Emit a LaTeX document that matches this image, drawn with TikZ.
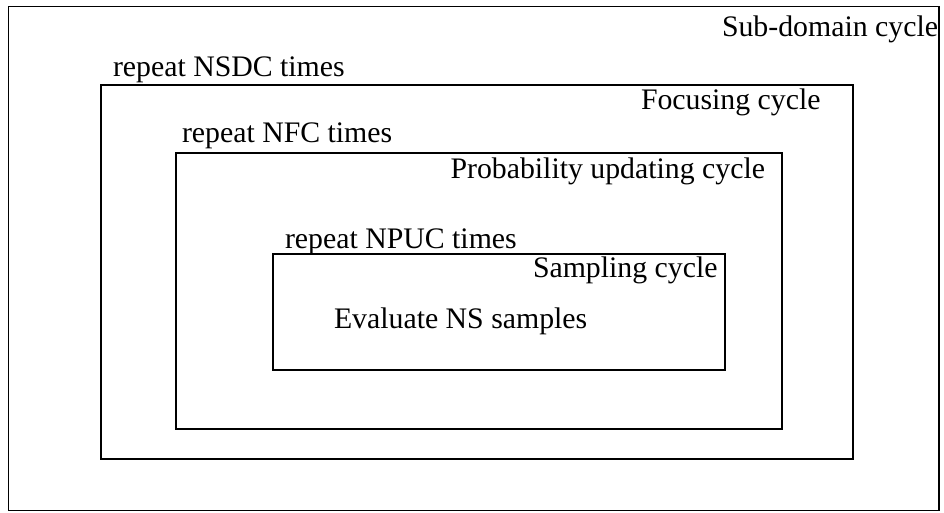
\documentclass[tikz,border=0pt]{standalone}
\usepackage{fontspec}
\setmainfont{Liberation Serif}
\tikzset{
  cyclebox/.style={draw=black, line width=1.3pt},
  lbl/.style={anchor=base west, inner sep=0pt, outer sep=0pt, font=\fontsize{29.8}{32}\selectfont}
}
\begin{document}
\begin{tikzpicture}[x=1pt, y=-1pt]
\useasboundingbox (0,0) rectangle (944,512);
\draw[cyclebox] (8.5,6.5) rectangle (939,510.5);
\draw[cyclebox] (101,85) rectangle (853,459);
\draw[cyclebox] (176,153) rectangle (782,429);
\draw[cyclebox] (273,254) rectangle (725,370);
\node[lbl] (sub) at (722,36) {Sub-domain cycle};
\node[lbl] (nsdc) at (113,76) {repeat NSDC times};
\node[lbl] (foc) at (641,109) {Focusing cycle};
\node[lbl] (nfc) at (182,142) {repeat NFC times};
\node[lbl, anchor=base east] (prob) at (765,178) {Probability updating cycle};
\node[lbl] (npuc) at (285,248) {repeat NPUC times};
\node[lbl] (samp) at (533,277) {Sampling cycle};
\node[lbl] (eval) at (334,328) {Evaluate NS samples};
\end{tikzpicture}
\end{document}
